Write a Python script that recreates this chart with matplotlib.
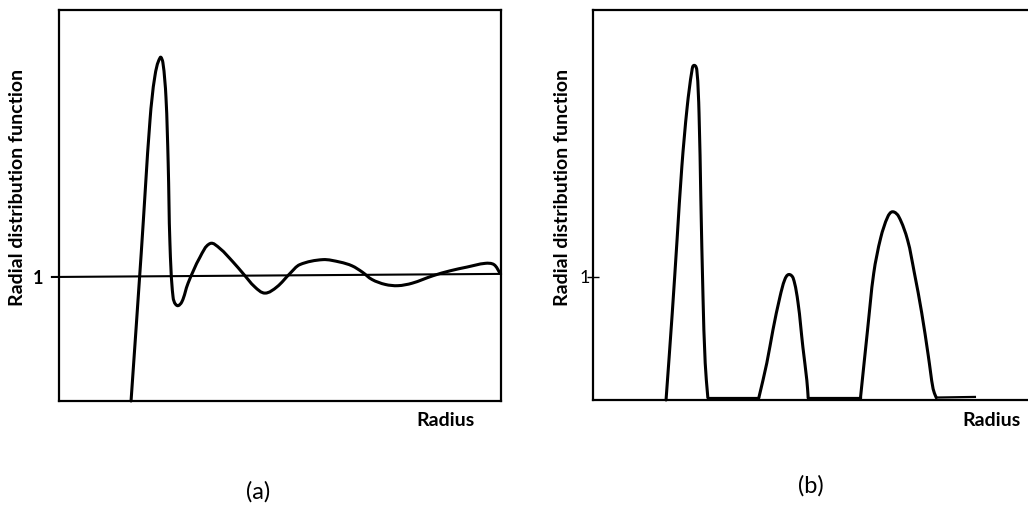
import numpy as np
import matplotlib.pyplot as plt
from matplotlib.path import Path
from matplotlib.patches import PathPatch

plt.rcParams['font.family'] = ['Lato', 'DejaVu Sans']

# (a) liquid-like g(r): radius vs g, damped oscillation about 1
r_a = [1.63, 1.86, 2.06, 2.17, 2.29, 2.35, 2.42, 2.47, 2.51,
       2.58, 2.67, 2.78, 2.92, 3.19, 3.42, 3.64, 3.94, 4.16, 4.43, 4.66, 4.93,
       5.23, 5.45, 5.97, 6.36, 6.63, 6.86, 7.08, 7.38, 7.67, 7.99, 8.46, 8.85,
       9.23, 9.64, 9.84, 9.98]
g_a = [0.00, 1.19, 2.27, 2.62, 2.77, 2.73, 2.45, 1.92, 1.27,
       0.84, 0.77, 0.80, 0.95, 1.16, 1.27, 1.23, 1.12, 1.03, 0.92, 0.87, 0.92,
       1.03, 1.10, 1.14, 1.12, 1.09, 1.04, 0.98, 0.94, 0.93, 0.95, 1.01, 1.05,
       1.08, 1.11, 1.10, 1.03]
ref_r = [-0.16, 10.0]
ref_g = [1.0, 1.025]

# (b) crystal-like g(r): three separate peaks on a zero baseline
r_b1 = [1.66, 1.80, 1.91, 2.02, 2.14, 2.25, 2.30, 2.36, 2.41, 2.45, 2.50, 2.55, 2.61]
g_b1 = [0.00, 0.70, 1.30, 1.90, 2.38, 2.68, 2.72, 2.68, 2.33, 1.65, 0.84, 0.30, 0.02]
r_b2 = [3.77, 3.95, 4.09, 4.25, 4.36, 4.45, 4.55, 4.66, 4.77, 4.86, 4.89]
g_b2 = [0.02, 0.30, 0.57, 0.84, 0.98, 1.02, 0.99, 0.79, 0.43, 0.16, 0.02]
r_b3 = [6.08, 6.24, 6.38, 6.54, 6.70, 6.81, 6.95, 7.15, 7.30, 7.47, 7.62, 7.73, 7.80]
g_b3 = [0.02, 0.57, 1.03, 1.32, 1.49, 1.53, 1.49, 1.30, 1.04, 0.71, 0.36, 0.09, 0.02]
flat_b = [([2.61, 3.77], [0.02, 0.02]), ([4.89, 6.08], [0.02, 0.02]),
          ([7.80, 8.68], [0.02, 0.025])]

W, H = 1028, 505


def smooth_path(xs, ys, sx=44.0, sy=124.0):
    # smooth curve through the points; tangents are taken in pixel-like units
    # and handle lengths follow each segment, so uneven spacing does not wobble
    pts = np.column_stack([xs, ys]).astype(float) * [sx, sy]
    n = len(pts)
    tang = []
    for i in range(n):
        a = pts[max(i - 1, 0)]
        b = pts[min(i + 1, n - 1)]
        d = b - a
        tang.append(d / np.hypot(*d))
    verts = [pts[0]]
    codes = [Path.MOVETO]
    for i in range(n - 1):
        p1, p2 = pts[i], pts[i + 1]
        L = np.hypot(*(p2 - p1)) / 3
        verts += [p1 + tang[i] * L, p2 - tang[i + 1] * L, p2]
        codes += [Path.CURVE4] * 3
    verts = np.array(verts) / [sx, sy]
    return Path(verts, codes)


def curve(ax, xs, ys):
    ax.add_patch(PathPatch(smooth_path(xs, ys), fill=False, lw=2.2,
                           ec='black', capstyle='round', joinstyle='round',
                           clip_on=False))


fig = plt.figure(figsize=(W / 100, H / 100), dpi=100)

ax1 = fig.add_axes([59 / W, (H - 401) / H, 442 / W, 391 / H])
ax2 = fig.add_axes([593 / W, (H - 400) / H, 440 / W, 390 / H])

ax1.set_xlim(0, 10)
ax1.set_ylim(0, 3.153)
ax2.set_xlim(0, 10)
ax2.set_ylim(0, 3.17)

for ax in (ax1, ax2):
    for s in ax.spines.values():
        s.set_linewidth(1.6)
    ax.set_xticks([])
    ax.set_yticks([1])

ax2.spines['right'].set_visible(False)

# panel (a)
ax1.plot(ref_r, ref_g, color='black', lw=1.5, clip_on=False)
curve(ax1, r_a, g_a)
ax1.tick_params(axis='y', direction='out', length=0, pad=11)
ax1.set_yticklabels(['1'], fontsize=13, fontweight='bold')

# panel (b)
curve(ax2, r_b1, g_b1)
curve(ax2, r_b2, g_b2)
curve(ax2, r_b3, g_b3)
for xs, ys in flat_b:
    ax2.plot(xs, ys, color='black', lw=1.6)
ax2.tick_params(axis='y', direction='inout', length=9, width=1.0, pad=-2)
ax2.set_yticklabels(['1'], fontsize=13)

# axis titles and panel letters
ylab = 'Radial distribution function'
fig.text(18 / W, 1 - 187 / H, ylab, rotation=90, ha='center', va='center',
         fontsize=14, fontweight='bold')
fig.text(563 / W, 1 - 187 / H, ylab, rotation=90, ha='center', va='center',
         fontsize=14, fontweight='bold')
fig.text(446 / W, 1 - 421 / H, 'Radius', ha='center', va='center',
         fontsize=14, fontweight='bold')
fig.text(992 / W, 1 - 420 / H, 'Radius', ha='center', va='center',
         fontsize=14, fontweight='bold')
fig.text(258 / W, 1 - 492 / H, '(a)', ha='center', va='center', fontsize=17)
fig.text(811 / W, 1 - 486 / H, '(b)', ha='center', va='center', fontsize=17)

fig.savefig('out.png', dpi=100)
